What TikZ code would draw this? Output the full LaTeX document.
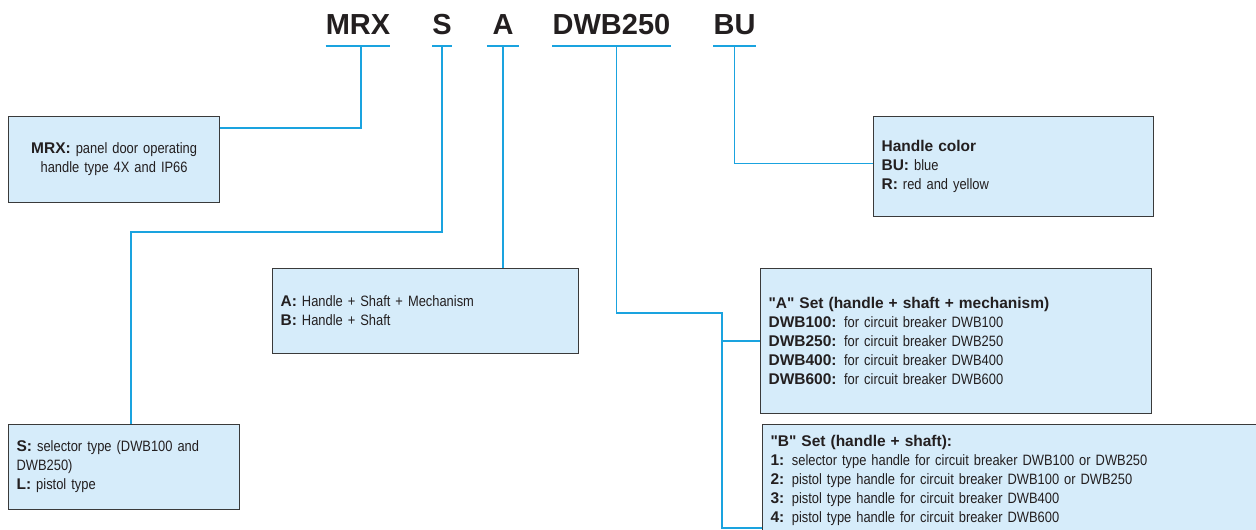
\documentclass[tikz,border=0pt]{standalone}
\usepackage{fontspec}
\setmainfont{Liberation Sans}[Ligatures=TeXOff, UprightFeatures={FakeStretch=0.86}]
\definecolor{linkblue}{HTML}{1AA3DF}
\definecolor{boxfill}{HTML}{D6ECFA}
\definecolor{boxline}{HTML}{3A3A3A}
\definecolor{codeblack}{HTML}{231F20}
\newcommand{\lbl}[1]{{\fontsize{15.5}{19}\selectfont\bfseries #1}}
\newcommand{\tightspace}{\spaceskip=3.2pt\relax}
\begin{document}
\begin{tikzpicture}[x=1pt,y=-1pt,
  code/.style={anchor=south, inner xsep=0pt, inner ysep=11pt, text=codeblack,
    font=\fontsize{29}{30}\selectfont\bfseries},
  infobox/.style={draw=boxline, line width=1.2pt, fill=boxfill, anchor=north west,
    inner xsep=8pt, inner ysep=0pt, align=left, text=codeblack,
    font=\fontsize{15}{19}\selectfont\tightspace},
  link/.style={draw=linkblue, line width=1.4pt}]
\useasboundingbox (0,0) rectangle (1256,530);
\clip (0,0) rectangle (1256,530);

\node[code] (mrxcode) at (358,46) {MRX};
\node[code] (scode) at (442,46) {S};
\node[code, minimum width=32pt] (acode) at (503,46) {A};
\node[code] (dwbcode) at (611.5,46) {DWB250};
\node[code] (bucode) at (734.5,46) {BU};

\node[infobox, align=center, text width=195pt, minimum height=86pt] (mrxbox) at (8,116)
  {\lbl{MRX:} panel door operating\\handle type 4X and IP66};
\node[infobox, text width=215pt, minimum height=85pt] (sbox) at (8,424)
  {\lbl{S:} selector type (DWB100 and\\DWB250)\\\lbl{L:} pistol type};
\node[infobox, text width=290pt, minimum height=85pt] (abox) at (272,268)
  {\lbl{A:} Handle + Shaft + Mechanism\\\lbl{B:} Handle + Shaft};
\node[infobox, text width=264pt, minimum height=100pt] (hbox) at (873,116)
  {\lbl{Handle color}\\\lbl{BU:} blue\\\lbl{R:} red and yellow};
\node[infobox, text width=375pt, minimum height=145pt] (seta) at (760,268)
  {\lbl{"A" Set (handle + shaft + mechanism)}\\
   \lbl{DWB100:} for circuit breaker DWB100\\
   \lbl{DWB250:} for circuit breaker DWB250\\
   \lbl{DWB400:} for circuit breaker DWB400\\
   \lbl{DWB600:} for circuit breaker DWB600};
\node[infobox, text width=504pt, minimum height=112pt] (setb) at (762,424)
  {\lbl{"B" Set (handle + shaft):}\\
   \lbl{1:} selector type handle for circuit breaker DWB100 or DWB250\\
   \lbl{2:} pistol type handle for circuit breaker DWB100 or DWB250\\
   \lbl{3:} pistol type handle for circuit breaker DWB400\\
   \lbl{4:} pistol type handle for circuit breaker DWB600};

% underlines
\path[link] (mrxcode.south west) -- (mrxcode.south east);
\path[link] (scode.south west) -- (scode.south east);
\path[link] (acode.south west) -- (acode.south east);
\path[link] (dwbcode.south west) -- (dwbcode.south east);
\path[link] (bucode.south west) -- (bucode.south east);

\coordinate (bend) at (722,313);
\coordinate (spinebot) at (722,528);

\path[link] ([xshift=3pt]mrxcode.south) |- ([yshift=-12pt]mrxbox.north east);
\path[link] (scode.south) -- ++(0,186) -| ([xshift=123pt]sbox.north west);
\path[link] (acode.south) -- (acode.south |- abox.north);
\path[link] ([xshift=5pt]dwbcode.south) |- (bend) -- (spinebot) -- (spinebot -| setb.west);
\path[link] (bend |- seta.west) -- (seta.west);
\path[link] (bucode.south) |- ([yshift=3pt]hbox.west);

\end{tikzpicture}
\end{document}
